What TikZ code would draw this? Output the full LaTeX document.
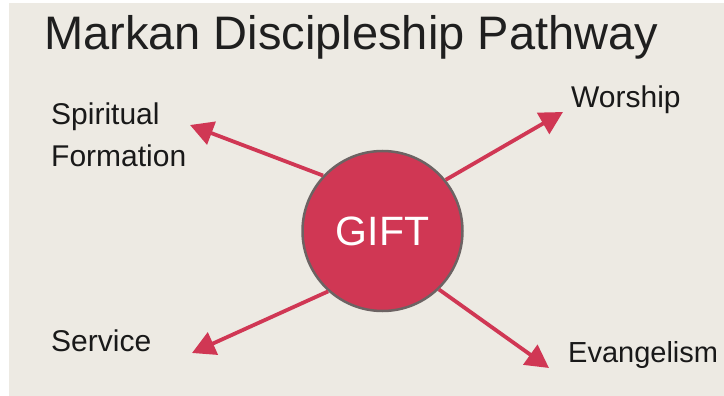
\documentclass[tikz,border=0pt]{standalone}
\usepackage{fontspec}
\setmainfont{Liberation Sans}
\usetikzlibrary{arrows.meta}
\definecolor{paper}{RGB}{237,234,227}
\definecolor{giftred}{RGB}{208,55,84}
\definecolor{rim}{RGB}{108,99,99}
\begin{document}
\begin{tikzpicture}[x=1pt,y=-1pt]
\tikzset{
    label/.style={anchor=base west, inner sep=0pt, align=left,
        font=\fontsize{30}{42}\selectfont, text=black!90},
    title/.style={anchor=base west, inner sep=0pt,
        font=\fontsize{47}{50}\selectfont, text=black!88},
    hub/.style={circle, minimum size=160pt, inner sep=0pt, fill=giftred,
        draw=rim, line width=2.5pt, text=white,
        font=\fontsize{41}{44}\selectfont},
    path arrow/.style={draw=giftred, line width=3.8pt,
        -{Triangle[length=23pt,width=24pt]}}}

\useasboundingbox (0,0) rectangle (724,396);
\fill[white] (0,0) rectangle (724,396);
\fill[paper] (9,3) rectangle (730,400);

\node[title] (head) at (44,50) {Markan Discipleship Pathway};

% last line of the node sits on the base anchor
\node[label] (spirit) at (51,166) {Spiritual\\Formation};
\node[label] (worship) at (571,108) {Worship};
\node[label] (service) at (51,351) {Service};
\node[label, font=\fontsize{29}{40}\selectfont] (evang) at (568,362) {Evangelism};

\path (190,125)coordinate(tipSF);
\path (563,112)coordinate(tipW);
\path (192,353)coordinate(tipS);
\path (549,368)coordinate(tipE);

\node[hub] (gift) at (382.5,231) {GIFT};

\draw[path arrow] (gift.137)--(tipSF);
\draw[path arrow] (gift.39)--(tipW);
\draw[path arrow] (gift.228)--(tipS);
\draw[path arrow] (gift.314)--(tipE);

\end{tikzpicture}
\end{document}
